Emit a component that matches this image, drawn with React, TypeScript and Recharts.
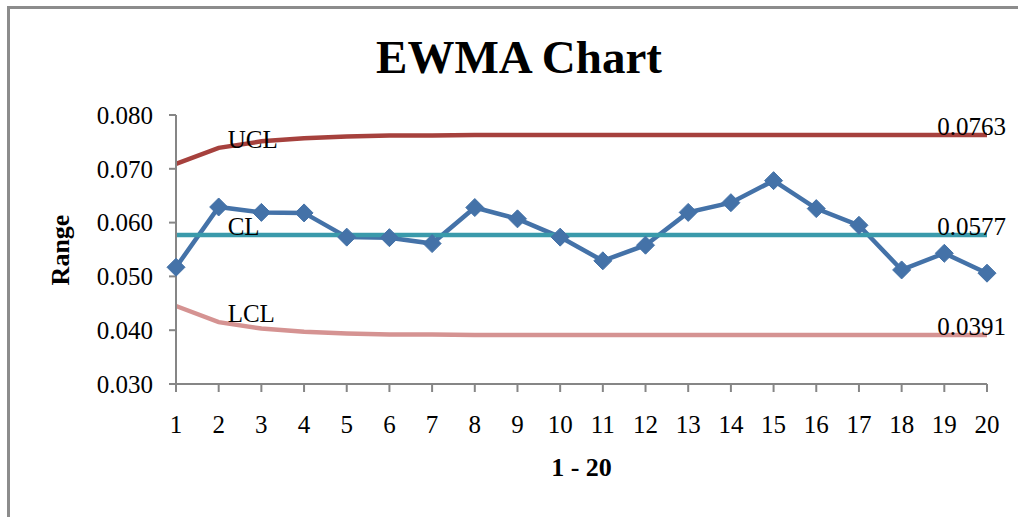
import React from 'react';
import { LineChart, Line, XAxis, YAxis, Label, Customized } from 'recharts';

const categories = [1, 2, 3, 4, 5, 6, 7, 8, 9, 10, 11, 12, 13, 14, 15, 16, 17, 18, 19, 20];
const ewmaValues = [0.0517, 0.0629, 0.0619, 0.0618, 0.0573, 0.0572, 0.0561, 0.0628, 0.0607, 0.0573, 0.0529, 0.0558, 0.0619, 0.0637, 0.0678, 0.0626, 0.0595, 0.0512, 0.0543, 0.0506];
const uclValues = [0.0709, 0.0739, 0.0751, 0.0757, 0.0760, 0.0762, 0.0762, 0.0763, 0.0763, 0.0763, 0.0763, 0.0763, 0.0763, 0.0763, 0.0763, 0.0763, 0.0763, 0.0763, 0.0763, 0.0763];
const clValues = [0.0577, 0.0577, 0.0577, 0.0577, 0.0577, 0.0577, 0.0577, 0.0577, 0.0577, 0.0577, 0.0577, 0.0577, 0.0577, 0.0577, 0.0577, 0.0577, 0.0577, 0.0577, 0.0577, 0.0577];
const lclValues = [0.0445, 0.0415, 0.0403, 0.0397, 0.0394, 0.0392, 0.0392, 0.0391, 0.0391, 0.0391, 0.0391, 0.0391, 0.0391, 0.0391, 0.0391, 0.0391, 0.0391, 0.0391, 0.0391, 0.0391];
const yTicks = [0.03, 0.04, 0.05, 0.06, 0.07, 0.08];

const data = categories.map((c, i) => ({
  x: String(c),
  ewma: ewmaValues[i],
  ucl: uclValues[i],
  cl: clValues[i],
  lcl: lclValues[i],
}));

const FONT = '"Liberation Serif", "Times New Roman", serif';
const AXIS = '#868686';

const makeLabel = (name: string, values: number[]) => (props: any) => {
  const { x, y, index } = props;
  if (index === 1) {
    return (
      <text key={`n-${name}`} x={x + 9} y={y} textAnchor="start" fontFamily={FONT} fontSize={25} fill="#000">
        {name}
      </text>
    );
  }
  if (index === values.length - 1) {
    return (
      <text key={`v-${name}`} x={x + 19} y={y} textAnchor="end" fontFamily={FONT} fontSize={25} fill="#000">
        {values[index].toFixed(4)}
      </text>
    );
  }
  return <g key={`e-${name}-${index}`} />;
};

const Diamond = (props: any) => {
  const { cx, cy, index } = props;
  if (cx == null || cy == null) return <g key={`d-${index}`} />;
  const r = 9;
  return (
    <polygon
      key={`d-${index}`}
      points={`${cx},${cy - r} ${cx + r},${cy} ${cx},${cy + r} ${cx - r},${cy}`}
      fill="#4472A8"
      stroke="#4472A8"
      strokeWidth={1}
    />
  );
};

const Title = () => (
  <text x={519} y={73} textAnchor="middle" fontFamily={FONT} fontSize={47} fontWeight="bold" fill="#000">
    EWMA Chart
  </text>
);

export default function App() {
  return (
    <div style={{ position: 'absolute', left: 0, top: 0, width: 1018, height: 517, background: '#fff' }}>
      <div
        style={{
          position: 'absolute',
          left: 7,
          top: 6,
          width: 1011,
          height: 511,
          borderLeft: '3px solid #8c8c8c',
          borderTop: '3px solid #8c8c8c',
          boxSizing: 'border-box',
        }}
      />
      <div style={{ position: 'absolute', left: 0, top: 0 }}>
        <LineChart
          width={1018}
          height={517}
          data={data}
          margin={{ top: 115, right: 31, bottom: 73, left: 76 }}
        >
          <Customized component={Title} />
          <XAxis
            dataKey="x"
            interval={0}
            height={60}
            axisLine={{ stroke: AXIS, strokeWidth: 2 }}
            tickLine={{ stroke: AXIS, strokeWidth: 2 }}
            tickSize={8}
            tickMargin={23}
            tick={{ fill: '#000', fontFamily: FONT, fontSize: 25 }}
          >
            <Label
              value="1 - 20"
              position="bottom"
              offset={14}
              style={{ fill: '#000', fontFamily: FONT, fontSize: 26, fontWeight: 'bold' }}
            />
          </XAxis>
          <YAxis
            width={100}
            domain={[0.03, 0.08]}
            ticks={yTicks}
            interval={0}
            tickFormatter={(v: number) => v.toFixed(3)}
            axisLine={{ stroke: AXIS, strokeWidth: 2 }}
            tickLine={{ stroke: AXIS, strokeWidth: 2 }}
            tickSize={7}
            tickMargin={16}
            tick={{ fill: '#000', fontFamily: FONT, fontSize: 25 }}
          >
            <Label
              content={() => (
                <text
                  x={60}
                  y={250}
                  transform="rotate(-90 60 250)"
                  textAnchor="middle"
                  dominantBaseline="central"
                  fontFamily={FONT}
                  fontSize={26}
                  fontWeight="bold"
                  fill="#000"
                >
                  Range
                </text>
              )}
            />
          </YAxis>
          <Line
            type="linear"
            dataKey="ewma"
            stroke="#4472A8"
            strokeWidth={4.5}
            dot={Diamond}
            activeDot={false}
            isAnimationActive={false}
          />
          <Line
            type="linear"
            dataKey="ucl"
            stroke="#A6413D"
            strokeWidth={4.5}
            dot={false}
            activeDot={false}
            isAnimationActive={false}
            label={makeLabel('UCL', uclValues)}
          />
          <Line
            type="linear"
            dataKey="cl"
            stroke="#3A9AAB"
            strokeWidth={4.5}
            dot={false}
            activeDot={false}
            isAnimationActive={false}
            label={makeLabel('CL', clValues)}
          />
          <Line
            type="linear"
            dataKey="lcl"
            stroke="#D59392"
            strokeWidth={4.5}
            dot={false}
            activeDot={false}
            isAnimationActive={false}
            label={makeLabel('LCL', lclValues)}
          />
        </LineChart>
      </div>
    </div>
  );
}
